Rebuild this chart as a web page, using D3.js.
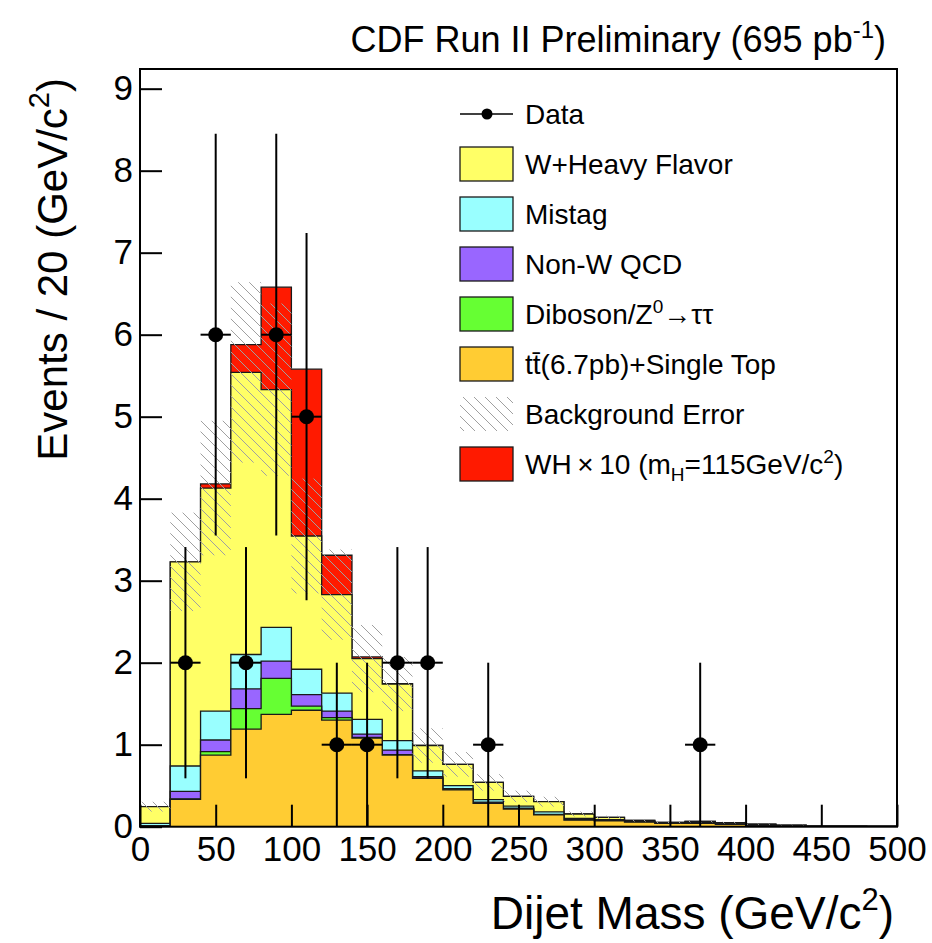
<!DOCTYPE html>
<html>
<head>
<meta charset="utf-8">
<script src="https://cdn.jsdelivr.net/npm/d3@7"></script>
<style>
  body { margin: 0; background: #fff; }
  svg { display: block; font-family: "Liberation Sans", Arial, Helvetica, sans-serif; }
</style>
</head>
<body>
<script>
// bins of 20 GeV/c^2
var binLow = [0,20,40,60,80,100,120,140,160,180,200,220,240,260,280,300,320,340,360,380,400,420,440,460,480];
var binWidth = 20;

// per-bin contributions (stacked bottom -> top)
var ttbar   = [0.01,0.334,0.874,1.19,1.37,1.42,1.30,1.08,0.874,0.59,0.45,0.285,0.216,0.143,0.08,0.07,0.055,0.04,0.04,0.03,0.015,0.01,0.005,0.004,0.003];
var diboson = [0,0.006,0.041,0.25,0.44,0.05,0.03,0.01,0.006,0.005,0.005,0.005,0.004,0.002,0,0,0,0,0,0,0,0,0,0,0];
var nonW    = [0,0.09,0.142,0.24,0.21,0.14,0.08,0.04,0.055,0.015,0.01,0.01,0.005,0.005,0.005,0.002,0.002,0.002,0.002,0,0,0,0,0,0];
var mistag  = [0.03,0.31,0.353,0.42,0.41,0.31,0.22,0.18,0.115,0.07,0.035,0.03,0.025,0.03,0.015,0.013,0.008,0.005,0.008,0.005,0.005,0.003,0,0,0];
var whf     = [0.204,2.49,2.72,3.44,2.90,1.625,1.20,0.74,0.69,0.31,0.26,0.21,0.12,0.125,0.055,0.029,0.013,0.006,0.015,0.015,0.01,0.007,0.003,0.002,0.001];
var wh10    = [0,0,0.05,0.34,1.25,2.035,0.48,0.02,0.005,0,0,0,0,0,0,0,0,0,0,0,0,0,0,0,0];
var bkgErr  = [0.06,0.6,0.82,1.1,1.05,0.7,0.55,0.41,0.33,0.21,0.15,0.1,0.07,0.06,0.03,0.02,0.015,0.01,0.012,0.01,0.006,0.004,0,0,0];

// data
var dataX   = [30,50,70,90,110,130,150,170,190,230,370];
var dataY   = [2,6,2,6,5,1,1,2,2,1,1];
var dataErr = [1.41,2.45,1.41,2.45,2.24,1,1,1.41,1.41,1,1];

var xTicks = [0,50,100,150,200,250,300,350,400,450,500];
var yTicks = [0,1,2,3,4,5,6,7,8,9];

var components = [
  {name: 'ttbar',   vals: ttbar,   color: '#ffcc33'},
  {name: 'diboson', vals: diboson, color: '#66ff33'},
  {name: 'nonW',    vals: nonW,    color: '#9966ff'},
  {name: 'mistag',  vals: mistag,  color: '#99ffff'},
  {name: 'whf',     vals: whf,     color: '#ffff66'},
  {name: 'wh',      vals: wh10,    color: '#ff1a00'}
];

var W = 932, H = 943;
var L = 140, R = 897, T = 69, B = 826.7;

var x = d3.scaleLinear().domain([0, 500]).range([L, R]);
var y = d3.scaleLinear().domain([0, 9.24]).range([B, T]);

var svg = d3.select('body').append('svg')
  .attr('width', W).attr('height', H);

var defs = svg.append('defs');
var pat = defs.append('pattern')
  .attr('id', 'hatch')
  .attr('patternUnits', 'userSpaceOnUse')
  .attr('width', 11).attr('height', 11);
pat.append('path')
  .attr('d', 'M0,0 L11,11 M-1,10 L1,12 M10,-1 L12,1')
  .attr('stroke', '#a0a0a0').attr('stroke-width', 1);

// cumulative stack
var cum = binLow.map(function() { return 0; });
var levels = [];
components.forEach(function(c) {
  cum = cum.map(function(v, i) { return v + c.vals[i]; });
  levels.push({color: c.color, tops: cum.slice()});
});

function stepPts(tops) {
  var pts = [];
  binLow.forEach(function(lo, i) {
    pts.push({x: lo, y: tops[i]});
    pts.push({x: lo + binWidth, y: tops[i]});
  });
  return pts;
}

var area = d3.area()
  .x(function(d) { return x(d.x); })
  .y0(y(0))
  .y1(function(d) { return y(d.y); });
var line = d3.line()
  .x(function(d) { return x(d.x); })
  .y(function(d) { return y(d.y); });

var gStack = svg.append('g');
levels.slice().reverse().forEach(function(lv) {
  var pts = stepPts(lv.tops);
  gStack.append('path')
    .attr('d', area(pts))
    .attr('fill', lv.color);
  var outline = [{x: 0, y: 0}].concat(pts).concat([{x: 500, y: 0}]);
  gStack.append('path')
    .attr('d', line(outline))
    .attr('fill', 'none')
    .attr('stroke', '#1a1a1a')
    .attr('stroke-width', 1.3);
});

// background error band (total background, no WH)
var bkgTot = levels[4].tops;
svg.append('g').selectAll('rect')
  .data(binLow)
  .join('rect')
  .attr('x', function(d) { return x(d); })
  .attr('width', x(binWidth) - x(0))
  .attr('y', function(d, i) { return y(bkgTot[i] + bkgErr[i]); })
  .attr('height', function(d, i) { return y(Math.max(bkgTot[i] - bkgErr[i], 0)) - y(bkgTot[i] + bkgErr[i]); })
  .attr('fill', 'url(#hatch)');

// axes (ticks inside frame)
var gy = svg.append('g').attr('transform', 'translate(' + L + ',0)');
gy.call(d3.axisLeft(y).tickValues(d3.range(0, 9.21, 0.2)).tickSize(-11).tickFormat(''));
gy.call(d3.axisLeft(y).tickValues(yTicks).tickSize(-22).tickPadding(7).tickFormat(d3.format('d')));
gy.selectAll('.domain').remove();

var gx = svg.append('g').attr('transform', 'translate(0,' + B + ')');
gx.call(d3.axisBottom(x).tickValues(d3.range(0, 501, 10)).tickSize(-11).tickFormat(''));
gx.call(d3.axisBottom(x).tickValues(xTicks).tickSize(-22).tickPadding(9).tickFormat(d3.format('d')));
gx.selectAll('.domain').remove();

svg.selectAll('.tick line').attr('stroke', '#000').attr('stroke-width', 2);
svg.selectAll('.tick text').attr('font-size', 35).attr('fill', '#000')
  .attr('font-family', '"Liberation Sans", Arial, sans-serif');

// data points
var gData = svg.append('g');
dataX.forEach(function(dx, i) {
  gData.append('line')
    .attr('x1', x(dx)).attr('x2', x(dx))
    .attr('y1', y(dataY[i] - dataErr[i])).attr('y2', y(dataY[i] + dataErr[i]))
    .attr('stroke', '#000').attr('stroke-width', 2);
  gData.append('line')
    .attr('x1', x(dx - binWidth / 2)).attr('x2', x(dx + binWidth / 2))
    .attr('y1', y(dataY[i])).attr('y2', y(dataY[i]))
    .attr('stroke', '#000').attr('stroke-width', 2);
  gData.append('circle')
    .attr('cx', x(dx)).attr('cy', y(dataY[i])).attr('r', 7.5)
    .attr('fill', '#000');
});

// frame
svg.append('rect')
  .attr('x', L).attr('y', T).attr('width', R - L).attr('height', B - T)
  .attr('fill', 'none').attr('stroke', '#000').attr('stroke-width', 2);

// legend
var leg = svg.append('g').attr('font-size', 28);
var legItems = [
  {type: 'data'},
  {type: 'box', color: '#ffff66', label: ['W+Heavy Flavor']},
  {type: 'box', color: '#99ffff', label: ['Mistag']},
  {type: 'box', color: '#9966ff', label: ['Non-W QCD']},
  {type: 'box', color: '#66ff33', label: 'diboson'},
  {type: 'box', color: '#ffcc33', label: 'ttbar'},
  {type: 'hatch'},
  {type: 'box', color: '#ff1a00', label: 'wh'}
];
legItems.forEach(function(it, i) {
  var cy = 114 + i * 50;
  if (it.type === 'data') {
    leg.append('line').attr('x1', 460).attr('x2', 513).attr('y1', cy).attr('y2', cy)
      .attr('stroke', '#000').attr('stroke-width', 1.5);
    leg.append('circle').attr('cx', 487).attr('cy', cy).attr('r', 5.5).attr('fill', '#000');
  } else if (it.type === 'hatch') {
    leg.append('rect').attr('x', 460).attr('y', cy - 17).attr('width', 53).attr('height', 34)
      .attr('fill', 'url(#hatch)');
  } else {
    leg.append('rect').attr('x', 460).attr('y', cy - 17).attr('width', 53).attr('height', 34)
      .attr('fill', it.color).attr('stroke', '#1a1a1a').attr('stroke-width', 1.3);
  }
  var t = leg.append('text').attr('x', 525).attr('y', cy + 10);
  if (it.type === 'data') t.text('Data');
  else if (it.type === 'hatch') t.text('Background Error');
  else if (it.label === 'diboson') {
    t.append('tspan').text('Diboson/Z');
    t.append('tspan').text('0').attr('font-size', 19).attr('dy', -11);
    t.append('tspan').text('\u2192\u03c4\u03c4').attr('dy', 11);
  } else if (it.label === 'ttbar') {
    t.append('tspan').text('t');
    t.append('tspan').text('t\u0304');
    t.append('tspan').text('(6.7pb)+Single Top');
  } else if (it.label === 'wh') {
    t.append('tspan').text('WH\u2009\u00d7\u200910 (m');
    t.append('tspan').text('H').attr('font-size', 19).attr('dy', 7);
    t.append('tspan').text('=115GeV/c').attr('dy', -7);
    t.append('tspan').text('2').attr('font-size', 19).attr('dy', -11);
    t.append('tspan').text(')').attr('dy', 11);
  } else t.text(it.label[0]);
});

// title
var title = svg.append('text').attr('x', 886).attr('y', 52)
  .attr('text-anchor', 'end').attr('font-size', 36);
title.append('tspan').text('CDF Run II Preliminary (695 pb');
title.append('tspan').text('-1').attr('font-size', 24).attr('dy', -14);
title.append('tspan').text(')').attr('dy', 14);

// axis titles
var xt = svg.append('text').attr('x', 894).attr('y', 929)
  .attr('text-anchor', 'end').attr('font-size', 46);
xt.append('tspan').text('Dijet Mass (GeV/c');
xt.append('tspan').text('2').attr('font-size', 31).attr('dy', -19);
xt.append('tspan').text(')').attr('dy', 19);

var yt = svg.append('text')
  .attr('transform', 'translate(67,78) rotate(-90)')
  .attr('text-anchor', 'end').attr('font-size', 42);
yt.append('tspan').text('Events / 20 (GeV/c');
yt.append('tspan').text('2').attr('font-size', 29).attr('dy', -18);
yt.append('tspan').text(')').attr('dy', 18);
</script>
</body>
</html>
